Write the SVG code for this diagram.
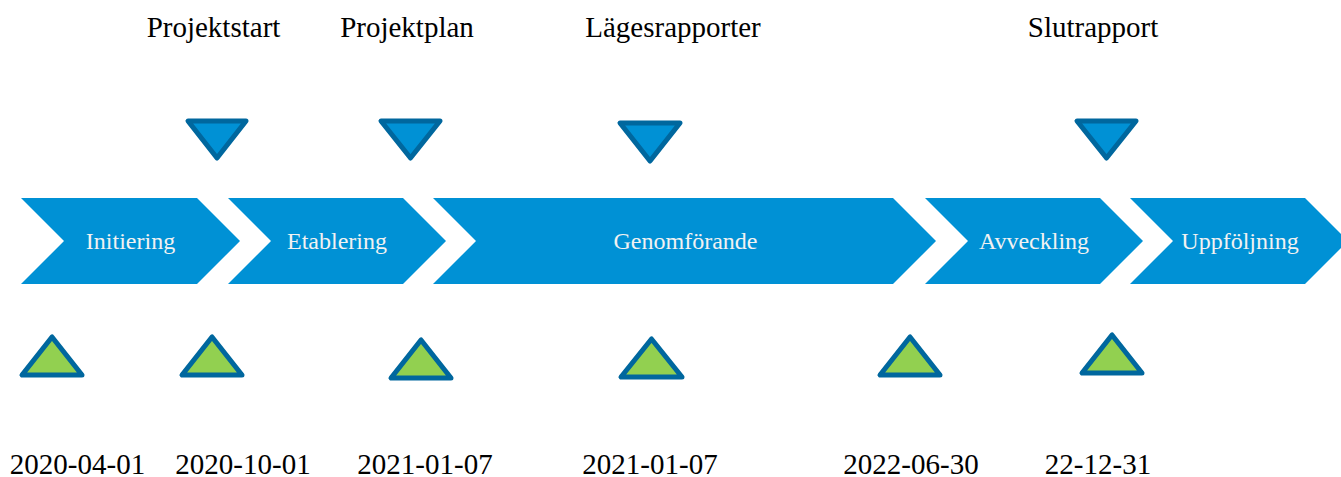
<svg xmlns="http://www.w3.org/2000/svg" width="1341" height="477" viewBox="0 0 1341 477">
<style>
.chev{fill:#0091D5;}
.cl{font-family:"Liberation Serif",serif;font-size:24px;fill:#F2F2F2;text-anchor:middle;}
.lbl{font-family:"Liberation Serif",serif;font-size:29px;fill:#000;text-anchor:middle;}
.down{fill:#0091D5;stroke:#00679E;stroke-width:5;stroke-linejoin:round;}
.up{fill:#92D050;stroke:#00679E;stroke-width:5;stroke-linejoin:round;}
</style>
<rect width="1341" height="477" fill="#fff"/>
<g id="phase-initiering">
<polygon class="chev" points="21,198 197,198 240,241 197,284 21,284 64,241"/>
<text class="cl" x="130.5" y="249">Initiering</text>
</g>
<g id="phase-etablering">
<polygon class="chev" points="228,198 403,198 446,241 403,284 228,284 271,241"/>
<text class="cl" x="337" y="249">Etablering</text>
</g>
<g id="phase-genomforande">
<polygon class="chev" points="433,198 893,198 936,241 893,284 433,284 476,241"/>
<text class="cl" x="685.5" y="249">Genomförande</text>
</g>
<g id="phase-avveckling">
<polygon class="chev" points="925,198 1100,198 1143,241 1100,284 925,284 968,241"/>
<text class="cl" x="1034" y="249">Avveckling</text>
</g>
<g id="phase-uppfoljning">
<polygon class="chev" points="1130,198 1305,198 1348,241 1305,284 1130,284 1173,241"/>
<text class="cl" x="1240" y="249">Uppföljning</text>
</g>
<g id="milestone-projektstart">
<text class="lbl" x="213.5" y="37">Projektstart</text>
<polygon class="down" points="188,121 246,121 217,158"/>
</g>
<g id="milestone-projektplan">
<text class="lbl" x="407" y="37">Projektplan</text>
<polygon class="down" points="381,121 440,121 410.5,158"/>
</g>
<g id="milestone-lagesrapporter">
<text class="lbl" x="673" y="37">Lägesrapporter</text>
<polygon class="down" points="620,123 680,123 650,161"/>
</g>
<g id="milestone-slutrapport">
<text class="lbl" x="1093" y="37">Slutrapport</text>
<polygon class="down" points="1077,121 1136,121 1106.5,158"/>
</g>
<g id="date-1">
<polygon class="up" points="22,375 82,375 52,337"/>
<text class="lbl" x="77.5" y="474">2020-04-01</text>
</g>
<g id="date-2">
<polygon class="up" points="182,375 242,375 212,337"/>
<text class="lbl" x="243" y="474">2020-10-01</text>
</g>
<g id="date-3">
<polygon class="up" points="391,378 451,378 421,340"/>
<text class="lbl" x="425" y="474">2021-01-07</text>
</g>
<g id="date-4">
<polygon class="up" points="621,377 682,377 651.5,339"/>
<text class="lbl" x="650" y="474">2021-01-07</text>
</g>
<g id="date-5">
<polygon class="up" points="880,375 940,375 910,337"/>
<text class="lbl" x="911" y="474">2022-06-30</text>
</g>
<g id="date-6">
<polygon class="up" points="1082,373 1142,373 1112,335"/>
<text class="lbl" x="1098" y="474">22-12-31</text>
</g>
<g id="connectors"></g>
</svg>
